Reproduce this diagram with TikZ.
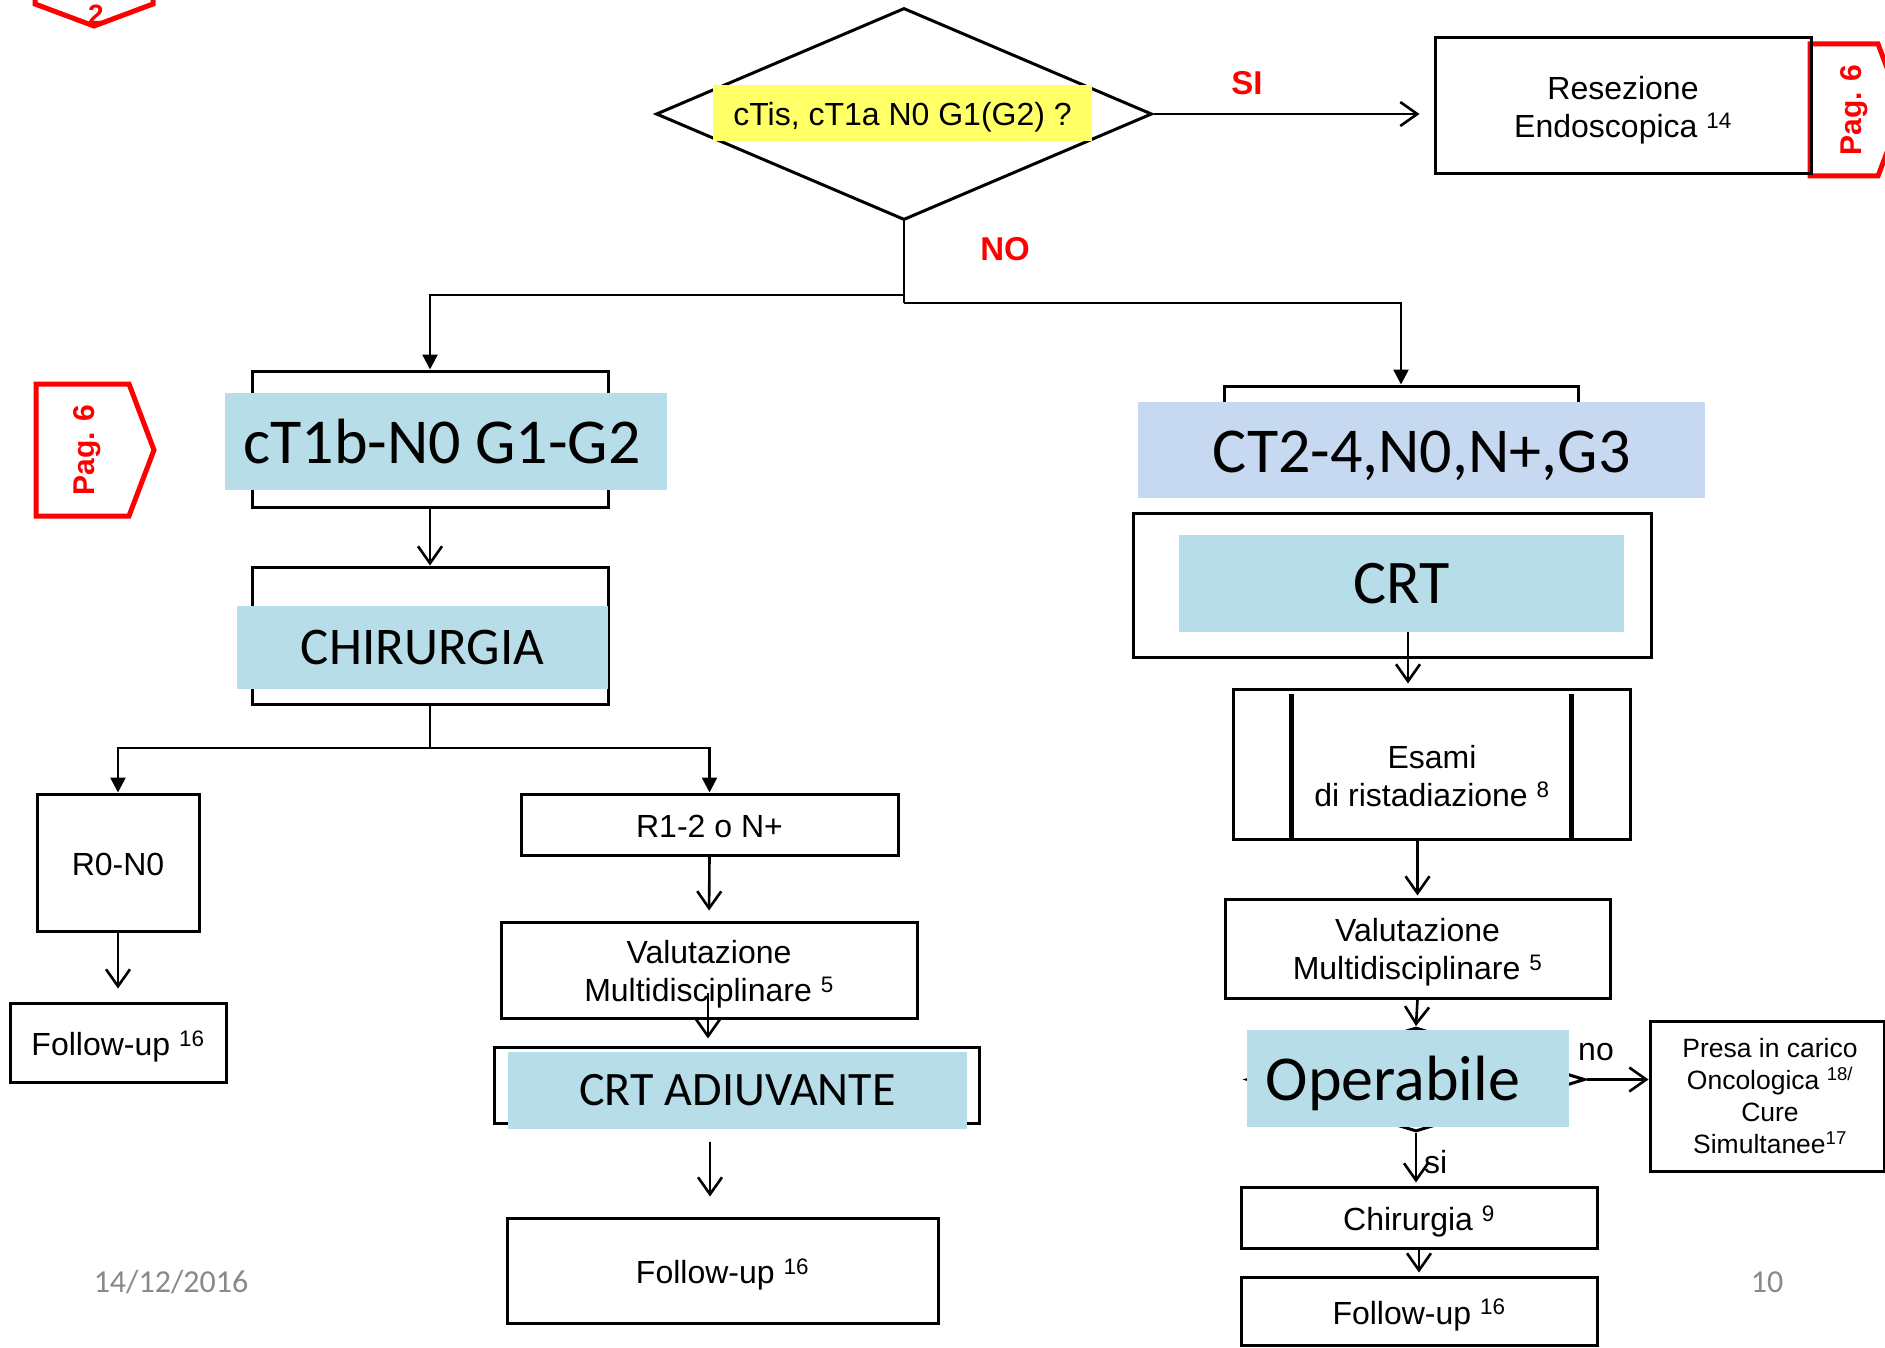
\documentclass[tikz,border=0pt]{standalone}
\usepackage{fontspec}
\setmainfont{Liberation Sans}
\newfontfamily\calib{Carlito}
\usetikzlibrary{arrows.meta,shapes.geometric,calc}
\definecolor{pale}{HTML}{B7DEE8}
\definecolor{paleblue}{HTML}{C6D9F1}
\definecolor{hl}{HTML}{FFFF66}
\definecolor{tagred}{HTML}{FF0000}
\definecolor{footgrey}{HTML}{898989}
\newcommand\fsz[2]{\fontsize{#1}{#2}\selectfont}

\tikzset{
  box/.style={draw, line width=3pt, inner sep=0pt, align=center, font=\fsz{32}{38},
              text height=27pt, text depth=1pt},
  mltext/.style={inner sep=0pt, align=center, font=\fsz{32}{38}, yshift=-4pt},
  band/.style={fill=#1, inner sep=0pt, align=center},
  conn/.style={line width=2.6pt},
  openarr/.style={-{Straight Barb[length=17pt,width=24pt]}},
  fillarr/.style={-{Triangle[length=15pt,width=15pt]}},
  tagline/.style={draw=tagred, line width=5pt, line join=miter},
  tagtext/.style={text=tagred, font=\bfseries\fsz{30}{36}, inner sep=0pt},
  redlbl/.style={text=tagred, font=\bfseries\fsz{33}{38}, inner sep=0pt},
  plain/.style={inner sep=0pt, font=\fsz{32}{38}}
}

\begin{document}
\begin{tikzpicture}[x=1pt, y=-1pt]
\useasboundingbox (0,0) rectangle (1885,1348);
\fill[white] (0,0) rectangle (1885,1348);
\clip (0,0) rectangle (1885,1348);

% page tags
\draw[tagline] (35,-20) -- (35,4) -- (94,26) -- (153,4) -- (153,-20);
\node[tagtext, font=\bfseries\fsz{28}{32}] (tagTop) at (96,15) {2};
\draw[tagline] (36,384) -- (129,384) -- (154,450) -- (129,516) -- (36,516) -- cycle;
\node[tagtext, rotate=90] (tagLeft) at (87,450) {Pag. 6};
\draw[tagline] (1810,44) -- (1878,44) -- (1903,110) -- (1878,176) -- (1810,176) -- cycle;
\node[tagtext, rotate=90] (tagRight) at (1854,110) {Pag. 6};

% top decision
\node[draw, diamond, line width=3pt, minimum width=496pt, minimum height=212pt, inner sep=0pt] (dia) at (904,114) {};
\node[band=hl, minimum width=379pt, minimum height=56pt, font=\fsz{32}{38}, text height=27pt, text depth=1pt] (q) at (902.5,113) {cTis, cT1a N0 G1(G2) ?};
\node[redlbl] (silbl) at (1247,83) {SI};
\node[redlbl] (nolbl) at (1005,249) {NO};
\node[box, minimum width=376pt, minimum height=136pt,
      label={[mltext]center:{Resezione\\Endoscopica \textsuperscript{14}}}] (resez) at (1623,106) {};

% left column
\node[box, minimum width=356pt, minimum height=136pt] (ct1out) at (430,439) {};
\node[band=pale, minimum width=442pt, minimum height=97pt, font=\calib\fsz{64}{70}] (ct1) at (446,441.5) {cT1b-N0 G1-G2\hspace{8pt}};
\node[box, minimum width=356pt, minimum height=137pt] (chirout) at (430,635.5) {};
\node[band=pale, minimum width=371pt, minimum height=83pt, font=\calib\fsz{53}{58}] (chir) at (422.5,647.5) {CHIRURGIA};
\node[box, minimum width=162pt, minimum height=137pt] (r0) at (118,862.5) {R0-N0};
\node[box, minimum width=216pt, minimum height=79pt] (fu1) at (118,1042.5) {Follow-up \textsuperscript{16}};
\node[box, minimum width=377pt, minimum height=61pt] (r12) at (709.5,824.5) {R1-2 o N+};
\node[box, minimum width=416pt, minimum height=96pt,
      label={[mltext]center:{Valutazione\\Multidisciplinare \textsuperscript{5}}}] (val1) at (709,970) {};
\node[box, minimum width=485pt, minimum height=76pt] (adjout) at (736.5,1085) {};
\node[band=pale, minimum width=459pt, minimum height=77pt, font=\calib\fsz{48}{53}] (adj) at (737.5,1090.5) {CRT ADIUVANTE};
\node[box, minimum width=431pt, minimum height=105pt] (fu2) at (722.5,1270.5) {Follow-up \textsuperscript{16}};

% right column
\node[box, minimum width=354pt, minimum height=104pt] (ct2out) at (1401,438) {};
\node[band=paleblue, minimum width=567pt, minimum height=96pt, font=\calib\fsz{64}{70}, text depth=0pt] (ct2) at (1421.5,450) {\raisebox{-3pt}{CT2-4,N0,N+,G3}};
\node[box, minimum width=518pt, minimum height=144pt] (crtout) at (1392,585) {};
\node[band=pale, minimum width=445pt, minimum height=97pt, font=\calib\fsz{62}{68}] (crt) at (1401.5,583.5) {CRT};
\node[box, minimum width=397pt, minimum height=150pt] (esami) at (1431.5,764) {};
\draw[line width=4.5pt] ([xshift=60pt,yshift=-6pt]esami.north west) -- ([xshift=60pt]esami.south west);
\draw[line width=4.5pt] ([xshift=-60pt,yshift=-6pt]esami.north east) -- ([xshift=-60pt]esami.south east);
\node[plain, align=center] (esamiTxt) at (1432,776) {Esami\\di ristadiazione \textsuperscript{8}};
\node[box, minimum width=385pt, minimum height=99pt,
      label={[mltext]center:{Valutazione\\Multidisciplinare \textsuperscript{5}}}] (val2) at (1417.5,948.5) {};
\node[draw, diamond, line width=3pt, minimum width=338pt, minimum height=104pt, inner sep=0pt] (opd) at (1416,1079.5) {};
\node[band=pale, minimum width=322pt, minimum height=97pt, font=\calib\fsz{64}{70}, text depth=0pt] (op) at (1408,1078.5) {Operabile\hspace{30pt}};
\node[plain] (nolbl2) at (1596,1052) {no};
\node[box, minimum width=234pt, minimum height=150pt, font=\fsz{26.5}{32}, text height=, text depth=] (pres) at (1767,1096) {\hspace{6pt}Presa in carico\\\hspace{6pt}Oncologica \textsuperscript{18/}\\\hspace{6pt}Cure\\\hspace{6pt}Simultanee\textsuperscript{17}};
\node[plain, anchor=west] (silbl2) at (1424,1162) {si};
\node[box, minimum width=356pt, minimum height=61pt] (chir2) at (1419,1217.5) {Chirurgia \textsuperscript{9}};
\node[box, minimum width=356pt, minimum height=68pt] (fu3) at (1419,1311) {Follow-up \textsuperscript{16}};

% footer
\node[text=footgrey, font=\calib\fsz{32}{38}, inner sep=0pt] (date) at (171,1282) {14/12/2016};
\node[text=footgrey, font=\calib\fsz{32}{38}, inner sep=0pt] (pagenum) at (1767,1282) {10};

% connectors
\coordinate (jL) at (904,295);
\coordinate (jR) at (904,303);
\coordinate (jC) at (430,748);
\coordinate (v1in) at (708,993);
\coordinate (adjArr) at (710,1129);
\draw[conn, openarr, shorten >=14pt] (dia.east) -- (dia.east -| resez.west);
\draw[conn] (dia.south) -- (jR);
\draw[conn, fillarr] (jL) -| (ct1out.north);
\draw[conn, fillarr] (jR) -| (ct2out.north);
\draw[conn, openarr] (ct1out.south) -- (chirout.north);
\draw[conn] (chirout.south) -- (jC);
\draw[conn, fillarr] (jC) -| (r0.north);
\draw[conn, fillarr] (jC) -| (r12.north);
\draw[conn, openarr, shorten >=13pt] (r0.south) -- (fu1.north);
\draw[conn, openarr, shorten >=10pt] (r12.south) -- (val1.north);
\draw[conn, openarr, shorten >=7pt] (v1in) -- (v1in |- adjout.north);
\draw[conn, openarr, shorten <=13pt, shorten >=20pt] (adjArr) -- (adjArr |- fu2.north);
\draw[conn, openarr, shorten >=4pt] ([xshift=6.5pt]crt.south) -- ([xshift=6.5pt]crt.south |- esami.north);
\draw[conn, openarr, shorten >=2pt] (esami.south -| val2.north) -- (val2.north);
\draw[conn, openarr] (val2.south) -- (opd.north);
\draw[conn, openarr] (opd.east) -- (opd.east -| pres.west);
\draw[conn, openarr, shorten >=3pt] (opd.south) -- (opd.south |- chir2.north);
\draw[conn, openarr, shorten >=3pt] (chir2.south) -- (fu3.north);
\end{tikzpicture}
\end{document}
